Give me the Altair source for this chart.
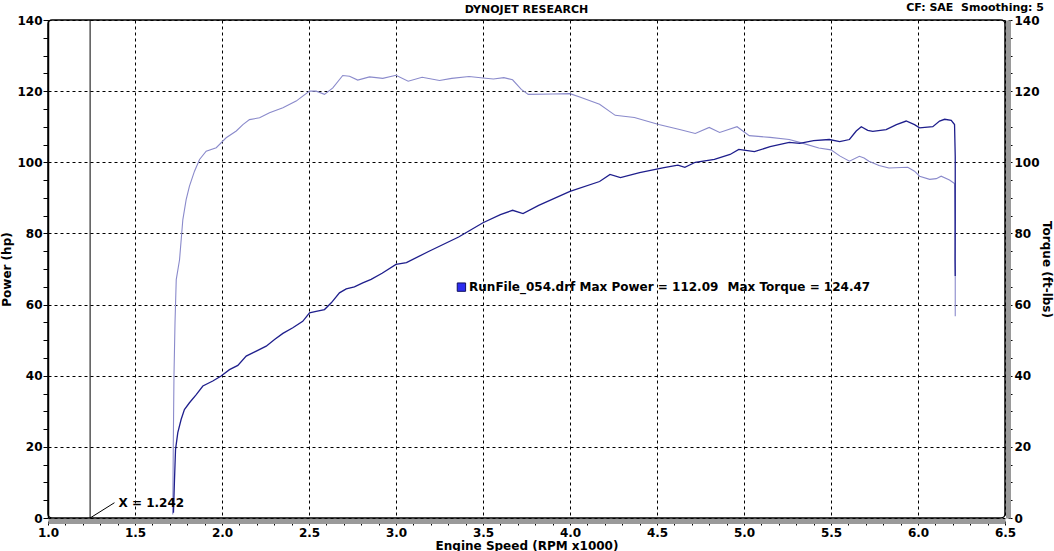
import altair as alt
import pandas as pd

# ---- data ----
power_rpm = [1.721, 1.727, 1.733, 1.746, 1.765, 1.784, 1.813, 1.852, 1.890, 1.947, 1.995, 2.043, 2.091,
             2.139, 2.197, 2.254, 2.302, 2.350, 2.407, 2.464, 2.503, 2.541, 2.589, 2.628, 2.675, 2.714,
             2.761, 2.809, 2.857, 2.92, 3.00, 3.06, 3.19, 3.36, 3.50, 3.60, 3.67, 3.73, 3.82, 4.00, 4.17,
             4.23, 4.29, 4.40, 4.54, 4.62, 4.66, 4.72, 4.83, 4.92, 4.97, 5.06, 5.15, 5.26, 5.32, 5.40,
             5.49, 5.55, 5.606, 5.645, 5.674, 5.711, 5.740, 5.817, 5.876, 5.932, 5.980, 6.009, 6.085,
             6.124, 6.153, 6.191, 6.210, 6.214, 6.214, 6.213, 6.214]
power_hp = [1.5, 10.8, 19.3, 24.0, 27.7, 30.5, 32.4, 34.7, 37.1, 38.5, 39.9, 41.7, 42.9,
            45.5, 46.9, 48.3, 50.2, 51.9, 53.5, 55.3, 57.7, 58.1, 58.6, 60.5, 63.3, 64.4,
            65.0, 66.1, 67.1, 68.8, 71.3, 71.8, 75.0, 79.0, 83.0, 85.3, 86.5, 85.6, 87.9, 91.8, 94.6,
            96.6, 95.7, 97.1, 98.5, 99.2, 98.6, 100.0, 100.8, 102.2, 103.6, 103.0, 104.4, 105.6, 105.3, 106.1,
            106.4, 105.8, 106.4, 108.8, 110.0, 109.0, 108.7, 109.2, 110.6, 111.6, 110.6, 109.7, 110.0,
            111.6, 112.09, 111.8, 110.6, 101.7, 83.4, 72.7, 68.0]

torque_rpm = [1.717, 1.720, 1.724, 1.730, 1.737, 1.756, 1.775, 1.794, 1.813, 1.842, 1.871, 1.909, 1.967,
              2.024, 2.082, 2.120, 2.158, 2.216, 2.273, 2.350, 2.426, 2.503, 2.541, 2.589, 2.637, 2.694,
              2.733, 2.780, 2.848, 2.924, 3.000, 3.07, 3.15, 3.25, 3.32, 3.42, 3.50, 3.56, 3.62, 3.67,
              3.72, 3.76, 3.90, 4.00, 4.06, 4.17, 4.26, 4.37, 4.51, 4.63, 4.72, 4.80, 4.86, 4.96, 5.03,
              5.15, 5.26, 5.32, 5.43, 5.50, 5.55, 5.606, 5.663, 5.690, 5.718, 5.776, 5.833, 5.941, 5.980,
              6.009, 6.067, 6.105, 6.133, 6.181, 6.210, 6.214, 6.214]
torque_ftlb = [1.0, 20.0, 40.0, 55.0, 67.0, 72.6, 83.9, 89.5, 93.3, 97.5, 100.8, 103.1, 104.1,
               106.9, 108.8, 110.6, 112.0, 112.5, 113.9, 115.3, 117.2, 120.0, 120.0, 119.1, 120.9, 124.4,
               124.2, 123.1, 124.0, 123.6, 124.47, 122.8, 123.9, 123.0, 123.6, 124.1, 123.7, 123.4, 123.8, 123.2,
               120.5, 119.1, 119.2, 119.3, 118.3, 116.3, 113.2, 112.6, 110.6, 109.2, 108.1, 109.8, 108.4, 110.0, 107.5,
               107.0, 106.4, 105.6, 104.0, 103.5, 101.8, 100.3, 101.7, 101.2, 100.3, 99.1, 98.4, 98.6, 97.5,
               96.1, 95.2, 95.4, 96.1, 95.0, 94.0, 75.0, 56.7]

cursor_rpm = 1.242
cursor_label = "X = 1.242"
leader_rpm = [1.242, 1.382]
leader_hp = [0.0, 4.3]

legend_rpm = [3.42, 4.905]
legend_hp = [64.8, 64.8]
legend_text = ["RunFile_054.drf Max Power = 112.09", "Max Torque = 124.47"]

chart_title = "DYNOJET RESEARCH"
corner_text = "CF: SAE\u00a0\u00a0Smoothing: 5"

x_ticks = [round(1.0 + i * 0.1, 1) for i in range(56)]
y_ticks = [i * 5 for i in range(29)]

FONT = "DejaVu Sans"
POWER_COLOR = "#1e1e8c"
TORQUE_COLOR = "#8a8acb"

power_df = pd.DataFrame({"rpm": power_rpm, "hp": power_hp, "i": range(len(power_rpm))})
torque_df = pd.DataFrame({"rpm": torque_rpm, "tq": torque_ftlb, "i": range(len(torque_rpm))})
leader_df = pd.DataFrame({"rpm": leader_rpm, "hp": leader_hp})
legend_df = pd.DataFrame({"rpm": legend_rpm, "hp": legend_hp, "t": legend_text})
cursor_df = pd.DataFrame({"rpm": [cursor_rpm], "lo": [0], "hi": [140]})
clabel_df = pd.DataFrame({"rpm": [leader_rpm[1]], "hp": [leader_hp[1]], "t": [cursor_label]})
square_df = pd.DataFrame({"rpm": [3.376], "hp": [64.9]})
cf_df = pd.DataFrame({"rpm": [6.5], "hp": [140], "t": [corner_text]})
title_df = pd.DataFrame({"rpm": [3.75], "hp": [140], "t": [chart_title]})

x_major = "abs(datum.value*2 - round(datum.value*2)) < 0.001"
x_axis = alt.Axis(
    values=x_ticks, title="Engine Speed (RPM x1000)",
    labelExpr=f"{x_major} ? format(datum.value, '.1f') : ''",
    grid=True, gridColor="black", gridDash=[3, 3], gridWidth=1,
    gridOpacity={"condition": {"test": x_major, "value": 1}, "value": 0},
    domainColor="#9a9a9a", domainWidth=5, offset=3,
    tickColor="black", tickSize=4, labelPadding=2, titlePadding=2,
    labelFlush=False, labelOverlap=False,
)
x_scale = alt.Scale(domain=[1.0, 6.5], nice=False, zero=False)

y_major = "datum.value % 20 == 0"
y_axis_left = alt.Axis(
    values=y_ticks, title="Power (hp)",
    labelExpr=f"{y_major} ? datum.label : ''",
    grid=True, gridColor="black", gridDash=[3, 3], gridWidth=1,
    gridOpacity={"condition": {"test": y_major, "value": 1}, "value": 0},
    domainColor="black", domainWidth=1.5, tickColor="black", tickSize=5,
    labelPadding=1, titlePadding=3, labelOverlap=False, labelFlush=False,
)
y_axis_right = alt.Axis(
    values=y_ticks, title="Torque (ft-lbs)", orient="right",
    labelExpr=f"{y_major} ? datum.label : ''",
    grid=False, domainColor="#9a9a9a", domainWidth=5, offset=3,
    tickColor="black", tickSize=4, labelPadding=2, titlePadding=0,
    labelOverlap=False, labelFlush=False,
)
y_scale = alt.Scale(domain=[0, 140], nice=False)


def X():
    return alt.X("rpm:Q", scale=x_scale, axis=x_axis)


def YL(field="hp:Q"):
    return alt.Y(field, scale=y_scale, axis=y_axis_left)


power = alt.Chart(power_df).mark_line(color=POWER_COLOR, strokeWidth=1.3).encode(
    x=X(), y=YL(), order="i:Q")

cursor = alt.Chart(cursor_df).mark_rule(color="black", strokeWidth=1).encode(
    x=X(), y=YL("lo:Q"), y2="hi:Q")

leader = alt.Chart(leader_df).mark_line(color="black", strokeWidth=1).encode(x=X(), y=YL())

clabel = alt.Chart(clabel_df).mark_text(
    align="left", baseline="middle", dx=4, font=FONT, fontWeight="bold", fontSize=12, color="black"
).encode(x=X(), y=YL(), text="t:N")

square = alt.Chart(square_df).mark_point(
    shape="square", size=70, filled=True, fill="#2c2cf0", stroke="#101060", strokeWidth=1, opacity=1
).encode(x=X(), y=YL())

legend = alt.Chart(legend_df).mark_text(
    align="left", baseline="middle", font=FONT, fontWeight="bold", fontSize=12, color="black"
).encode(x=X(), y=YL(), text="t:N")

cf = alt.Chart(cf_df).mark_text(
    align="right", baseline="alphabetic", dx=39, dy=-9, font=FONT, fontWeight="bold", fontSize=11, color="black"
).encode(x=X(), y=YL(), text="t:N")

title = alt.Chart(title_df).mark_text(
    align="center", baseline="alphabetic", dy=-7, font=FONT, fontWeight="bold", fontSize=11, color="black"
).encode(x=X(), y=YL(), text="t:N")

left = alt.layer(cursor, leader, power, square, legend, clabel, cf, title)

torque = alt.Chart(torque_df).mark_line(color=TORQUE_COLOR, strokeWidth=1.1).encode(
    x=X(), y=alt.Y("tq:Q", scale=y_scale, axis=y_axis_right), order="i:Q")

chart = alt.layer(torque, left).resolve_scale(y="independent").properties(
    width=957, height=498,
    autosize=alt.AutoSizeParams(type="none"),
    padding={"left": 48, "top": 20, "right": 49, "bottom": 33},
    background="white",
).configure_view(
    stroke="black", strokeWidth=1.5, cornerRadius=4
).configure_axis(
    labelFont=FONT, labelFontSize=12, labelFontWeight="bold", labelColor="black",
    titleFont=FONT, titleFontSize=12, titleFontWeight="bold", titleColor="black",
)

chart.save("out.html", embed_options={"renderer": "svg", "actions": False})
